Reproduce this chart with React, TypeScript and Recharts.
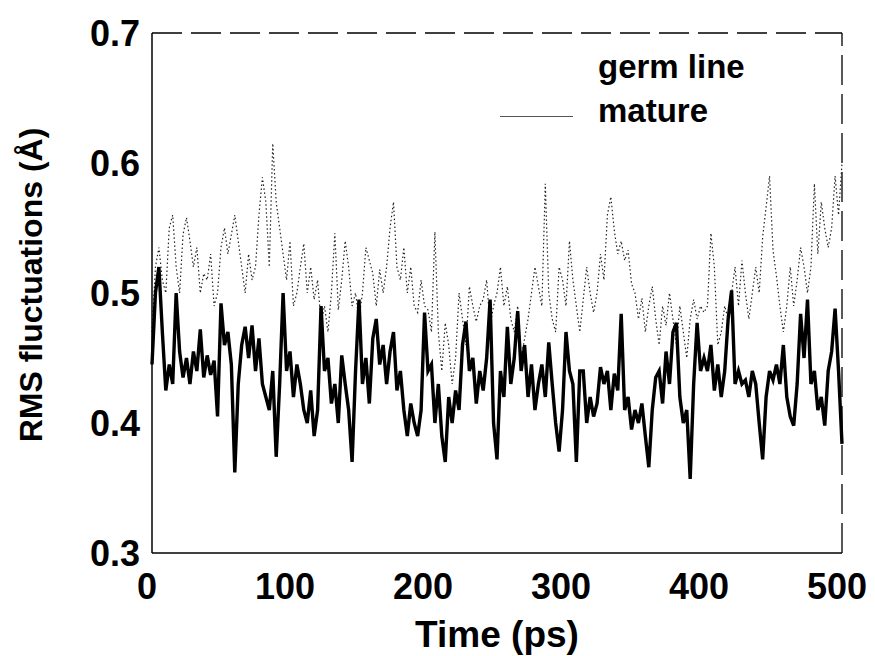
import React from 'react';
import { LineChart, Line, XAxis, YAxis, ReferenceLine, Legend } from 'recharts';

// time step of the sampled trajectories (ps)
const timeStepPs = 2.5;

// RMS fluctuations (Å), germ line antibody, every 2.5 ps from 0 to 500 ps
const germLine: number[] = [
  0.445, 0.50, 0.52, 0.47, 0.425, 0.445, 0.43, 0.50,
  0.455, 0.435, 0.45, 0.43, 0.455, 0.44, 0.472, 0.435,
  0.452, 0.437, 0.448, 0.405, 0.492, 0.46, 0.47, 0.445,
  0.362, 0.43, 0.46, 0.474, 0.45, 0.475, 0.44, 0.465,
  0.43, 0.42, 0.41, 0.44, 0.374, 0.43, 0.50, 0.44,
  0.455, 0.42, 0.445, 0.43, 0.41, 0.40, 0.425, 0.39,
  0.41, 0.49, 0.44, 0.45, 0.415, 0.43, 0.40, 0.452,
  0.43, 0.41, 0.37, 0.44, 0.495, 0.43, 0.45, 0.415,
  0.465, 0.48, 0.445, 0.46, 0.43, 0.455, 0.47, 0.425,
  0.44, 0.41, 0.39, 0.415, 0.40, 0.39, 0.41, 0.485,
  0.44, 0.445, 0.40, 0.43, 0.39, 0.37, 0.42, 0.40,
  0.425, 0.41, 0.46, 0.478, 0.44, 0.45, 0.415, 0.44,
  0.425, 0.45, 0.495, 0.40, 0.372, 0.44, 0.42, 0.474,
  0.43, 0.45, 0.486, 0.44, 0.46, 0.42, 0.445, 0.41,
  0.43, 0.445, 0.42, 0.462, 0.43, 0.40, 0.378, 0.41,
  0.47, 0.44, 0.43, 0.37, 0.44, 0.44, 0.40, 0.42,
  0.405, 0.415, 0.443, 0.43, 0.44, 0.41, 0.438, 0.425,
  0.484, 0.41, 0.42, 0.395, 0.41, 0.40, 0.415, 0.39,
  0.366, 0.41, 0.435, 0.44, 0.415, 0.455, 0.43, 0.47,
  0.477, 0.42, 0.40, 0.41, 0.357, 0.43, 0.477, 0.44,
  0.45, 0.44, 0.46, 0.425, 0.445, 0.42, 0.44, 0.48,
  0.502, 0.43, 0.44, 0.43, 0.433, 0.42, 0.44, 0.43,
  0.40, 0.372, 0.42, 0.44, 0.433, 0.445, 0.43, 0.46,
  0.42, 0.405, 0.398, 0.43, 0.484, 0.45, 0.495, 0.43,
  0.44, 0.41, 0.42, 0.398, 0.44, 0.455, 0.488, 0.44,
  0.384,
];

// RMS fluctuations (Å), mature antibody, every 2.5 ps from 0 to 500 ps
const mature: number[] = [
  0.47, 0.52, 0.535, 0.51, 0.50, 0.55, 0.56, 0.52,
  0.50, 0.545, 0.558, 0.54, 0.52, 0.535, 0.50, 0.515,
  0.51, 0.53, 0.49, 0.50, 0.535, 0.55, 0.53, 0.545,
  0.56, 0.54, 0.52, 0.50, 0.53, 0.51, 0.52, 0.56,
  0.589, 0.57, 0.52, 0.615, 0.57, 0.55, 0.53, 0.51,
  0.54, 0.49, 0.50, 0.52, 0.538, 0.50, 0.52, 0.495,
  0.51, 0.477, 0.49, 0.47, 0.50, 0.546, 0.487, 0.51,
  0.54, 0.52, 0.49, 0.50, 0.48, 0.50, 0.535, 0.525,
  0.515, 0.49, 0.518, 0.50, 0.52, 0.55, 0.57, 0.52,
  0.51, 0.535, 0.50, 0.52, 0.49, 0.485, 0.51, 0.49,
  0.487, 0.47, 0.547, 0.47, 0.44, 0.477, 0.46, 0.43,
  0.45, 0.50, 0.48, 0.46, 0.505, 0.49, 0.478, 0.49,
  0.495, 0.51, 0.475, 0.49, 0.50, 0.52, 0.49, 0.505,
  0.48, 0.47, 0.49, 0.45, 0.465, 0.48, 0.50, 0.52,
  0.505, 0.49, 0.584, 0.50, 0.48, 0.47, 0.52, 0.51,
  0.49, 0.54, 0.51, 0.49, 0.47, 0.495, 0.52, 0.50,
  0.485, 0.50, 0.53, 0.51, 0.56, 0.574, 0.548, 0.53,
  0.54, 0.525, 0.533, 0.507, 0.50, 0.48, 0.496, 0.47,
  0.49, 0.505, 0.48, 0.46, 0.49, 0.475, 0.50, 0.48,
  0.46, 0.49, 0.47, 0.45, 0.48, 0.495, 0.48, 0.49,
  0.485, 0.49, 0.546, 0.52, 0.46, 0.47, 0.49, 0.48,
  0.50, 0.52, 0.49, 0.525, 0.50, 0.48, 0.50, 0.52,
  0.50, 0.543, 0.566, 0.59, 0.533, 0.513, 0.49, 0.47,
  0.49, 0.52, 0.49, 0.51, 0.535, 0.52, 0.50, 0.52,
  0.584, 0.53, 0.57, 0.55, 0.535, 0.55, 0.59, 0.56,
  0.60,
];

const xTicks = [0, 100, 200, 300, 400, 500];
const yTicks = [0.3, 0.4, 0.5, 0.6, 0.7];
const seriesNames = ['germ line', 'mature'];
const xTitle = 'Time (ps)';
const yTitle = 'RMS fluctuations (\u00C5)';

const data = germLine.map((g, i) => ({ t: i * timeStepPs, germ: g, mature: mature[i] }));

const FONT = '"Liberation Sans", Arial, Helvetica, sans-serif';

const LegendBox = () => (
  <div style={{ position: 'relative', width: 300, height: 100, fontFamily: FONT, fontWeight: 'bold', fontSize: 33, color: '#000' }}>
    <div style={{ position: 'absolute', left: 110, top: 12, lineHeight: '33px', whiteSpace: 'nowrap' }}>{seriesNames[0]}</div>
    <div style={{ position: 'absolute', left: 12, top: 78, width: 73, height: 0, borderTop: '1.5px solid #555' }} />
    <div style={{ position: 'absolute', left: 110, top: 56, lineHeight: '33px', whiteSpace: 'nowrap' }}>{seriesNames[1]}</div>
  </div>
);

export default function App() {
  return (
    <LineChart width={867} height={648} data={data} margin={{ top: 25, right: 33, bottom: 33, left: 0 }}>
      <XAxis
        dataKey="t"
        type="number"
        domain={[0, 500]}
        ticks={xTicks}
        tickLine={false}
        tickSize={6}
        tickMargin={14}
        height={70}
        axisLine={{ stroke: '#000', strokeWidth: 1.5 }}
        tick={{ fill: '#000', fontSize: 36, fontWeight: 'bold', fontFamily: FONT, dx: -5 }}
        label={{
          content: () => (
            <text x={489} y={639} textAnchor="middle" fill="#000" fontSize={37} fontWeight="bold" fontFamily={FONT}>
              {xTitle}
            </text>
          ),
        }}
      />
      <YAxis
        type="number"
        domain={[0.3, 0.7]}
        ticks={yTicks}
        allowDataOverflow
        tickLine={false}
        tickSize={6}
        tickMargin={6}
        width={144}
        axisLine={{ stroke: '#000', strokeWidth: 1.5 }}
        tickFormatter={(v: number) => v.toFixed(1)}
        tick={{ fill: '#000', fontSize: 36, fontWeight: 'bold', fontFamily: FONT }}
        label={{
          content: () => (
            <text x={34} y={277} transform="rotate(-90 34 277)" textAnchor="middle" fill="#000" fontSize={32} fontWeight="bold" fontFamily={FONT}>
              {yTitle}
            </text>
          ),
        }}
      />
      <ReferenceLine y={0.7} stroke="#000" strokeWidth={1.3} strokeDasharray="30 9" />
      <ReferenceLine x={500} stroke="#000" strokeWidth={1.3} strokeDasharray="30 9" />
      <Line
        type="linear"
        dataKey="mature"
        name={seriesNames[1]}
        stroke="#222"
        strokeWidth={1.2}
        strokeDasharray="1.5 2.5"
        dot={false}
        isAnimationActive={false}
      />
      <Line
        type="linear"
        dataKey="germ"
        name={seriesNames[0]}
        stroke="#000"
        strokeWidth={3.4}
        dot={false}
        isAnimationActive={false}
      />
      <Legend
        layout="horizontal"
        align="center"
        verticalAlign="middle"
        content={() => <LegendBox />}
        wrapperStyle={{ top: 30, left: 480, width: 300, height: 100 }}
      />
    </LineChart>
  );
}
